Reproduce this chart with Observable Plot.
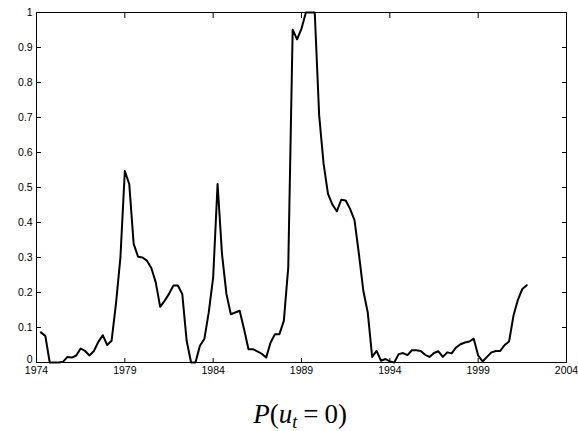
<!DOCTYPE html>
<html>
<head>
<meta charset="utf-8">
<script src="https://cdn.jsdelivr.net/npm/d3@7"></script>
<script src="https://cdn.jsdelivr.net/npm/@observablehq/plot@0.6"></script>
<style>
  html, body { margin: 0; padding: 0; background: #fff; }
  #wrap { position: relative; width: 578px; height: 431px; overflow: hidden; }
  #caption {
    position: absolute; left: 0; width: 600px; top: 399px; text-align: center;
    font-family: "Liberation Serif", "Times New Roman", serif; font-size: 27px; color: #000;
    line-height: 30px; white-space: nowrap;
  }
  #caption sub { font-size: 18px; vertical-align: -5px; line-height: 0; }
  #caption .eq { padding: 0 6px; }
</style>
</head>
<body>
<div id="wrap"><div id="chart"></div><div id="caption"><i>P</i>(<i>u</i><sub><i>t</i></sub><span class="eq">=</span>0)</div></div>
<script>
// Quarterly estimates of P(u_t = 0), first quarter plotted at 1974.25
const startYear = 1974.25;
const values = [
  0.086, 0.076, 0.000, 0.000, 0.000, 0.002, 0.016, 0.014, 0.020, 0.040,
  0.033, 0.020, 0.033, 0.059, 0.078, 0.050, 0.062, 0.169, 0.300, 0.547,
  0.510, 0.339, 0.302, 0.300, 0.291, 0.270, 0.229, 0.159, 0.176, 0.196,
  0.220, 0.220, 0.196, 0.062, 0.000, 0.000, 0.048, 0.067, 0.143, 0.243,
  0.510, 0.310, 0.196, 0.138, 0.143, 0.148, 0.095, 0.038, 0.038, 0.032,
  0.025, 0.014, 0.057, 0.081, 0.081, 0.119, 0.272, 0.951, 0.923, 0.954,
  1.000, 1.000, 1.000, 0.706, 0.568, 0.482, 0.451, 0.432, 0.465, 0.463,
  0.439, 0.407, 0.310, 0.205, 0.143, 0.016, 0.033, 0.005, 0.010, 0.003,
  0.000, 0.024, 0.027, 0.021, 0.035, 0.035, 0.033, 0.022, 0.016, 0.027,
  0.032, 0.016, 0.029, 0.026, 0.043, 0.052, 0.057, 0.060, 0.068, 0.020,
  0.003, 0.016, 0.029, 0.033, 0.033, 0.050, 0.060, 0.134, 0.179, 0.210,
  0.221
];
const xTicks = [1974, 1979, 1984, 1989, 1994, 1999, 2004];
const yTicks = [0, 0.1, 0.2, 0.3, 0.4, 0.5, 0.6, 0.7, 0.8, 0.9, 1];
const yTickLabels = ["0", "0.1", "0.2", "0.3", "0.4", "0.5", "0.6", "0.7", "0.8", "0.9", "1"];

const data = values.map((v, i) => ({year: startYear + i * 0.25, p: v}));
const yLabel = d => yTickLabels[yTicks.indexOf(d)];

const chart = Plot.plot({
  width: 578,
  height: 380,
  marginLeft: 36,
  marginRight: 12,
  marginTop: 12,
  marginBottom: 18,
  style: {fontFamily: "'Liberation Sans', Arial, sans-serif", fontSize: "10.5px", color: "#000", background: "#fff", overflow: "visible"},
  x: {domain: [1974, 2004]},
  y: {domain: [0, 1]},
  marks: [
    Plot.frame({stroke: "#000", strokeWidth: 1}),
    Plot.axisX({anchor: "bottom", ticks: xTicks, tickSize: -5, tickPadding: 8, dy: 1, tickFormat: d => String(d), label: null, stroke: "#000"}),
    Plot.axisX({anchor: "top", ticks: xTicks, tickSize: -5, tickFormat: () => "", label: null, stroke: "#000"}),
    Plot.axisY({anchor: "left", ticks: yTicks.slice(1), tickSize: -5, tickPadding: 9, tickFormat: yLabel, label: null, stroke: "#000"}),
    Plot.axisY({anchor: "left", ticks: yTicks.slice(0, 1), tickSize: 0, tickPadding: 4, dy: -3, tickFormat: yLabel, label: null}),
    Plot.axisY({anchor: "right", ticks: yTicks, tickSize: -5, tickFormat: () => "", label: null, stroke: "#000"}),
    Plot.lineY(data, {x: "year", y: "p", stroke: "#000", strokeWidth: 2})
  ]
});
document.getElementById("chart").appendChild(chart);
</script>
</body>
</html>
